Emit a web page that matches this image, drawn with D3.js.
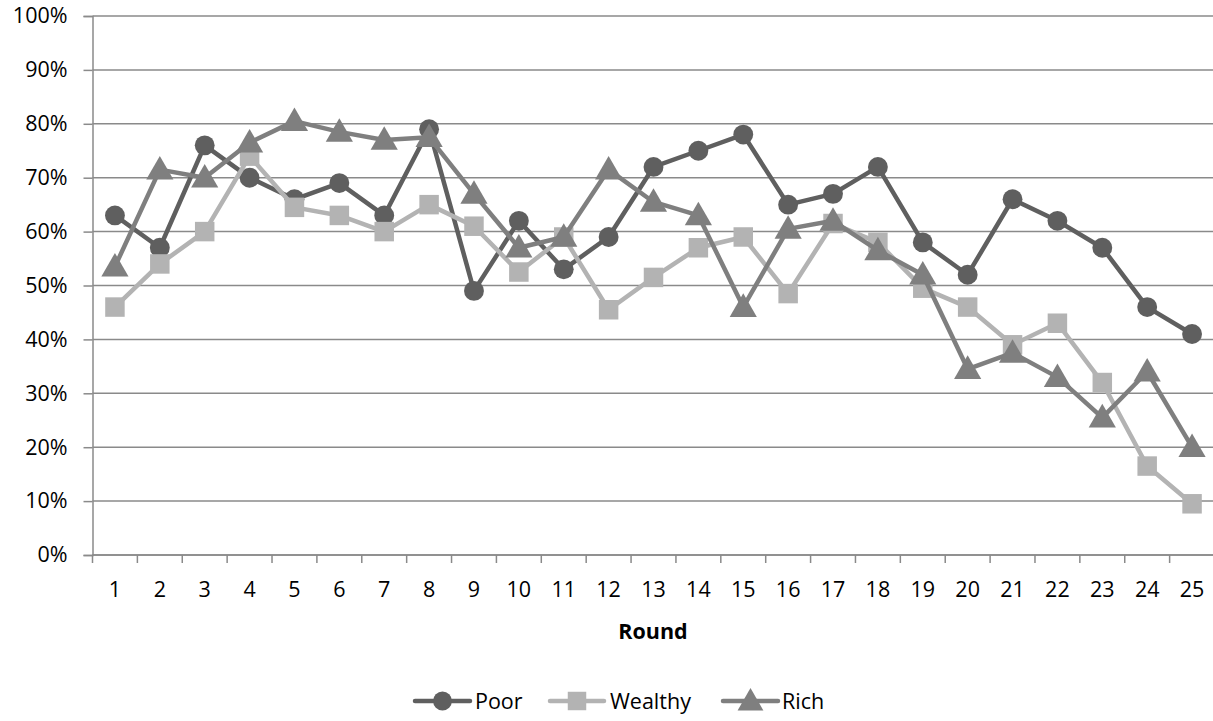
<!DOCTYPE html>
<html><head><meta charset="utf-8">
<script src="https://cdn.jsdelivr.net/npm/d3@7"></script>
<style>body{margin:0;background:#fff}text{font-family:"Open Sans",Lato,sans-serif}</style>
</head><body>
<svg id="c" width="1213" height="721"></svg>
<script>
const rounds = d3.range(1, 26).map(String);
const poor = [63,57,76,70,66,69,63,79,49,62,53,59,72,75,78,65,67,72,58,52,66,62,57,46,41];
const wealthy = [46,54,60,74,64.5,63,60,65,61,52.5,59,45.5,51.5,57,59,48.5,61.5,58,49.5,46,39,43,32,16.5,9.5];
const rich = [53.5,71.5,70,76.5,80.5,78.5,77,77.5,67,57,59,71.5,65.5,63,46,60.5,62,56.5,52,34.5,37.5,33,25.5,34,20];
const yTicks = [0,10,20,30,40,50,60,70,80,90,100];
const seriesNames = ["Poor","Wealthy","Rich"];
const colors = ["#5f5f5f","#b3b3b3","#7f7f7f"];
const shapes = [d3.symbolCircle, d3.symbolSquare, d3.symbolTriangle];
const sizes = [310, 380, 320];

const FS = 21.5;
const FF = "'Open Sans',Lato,sans-serif";
const svg = d3.select("#c");
const L = 92.5, R = 1214.5, T = 16, B = 555;
const x = d3.scaleBand().domain(rounds).range([L, R]);
const y = d3.scaleLinear().domain([0, 100]).range([B, T]);

// gridlines
svg.append("g").selectAll("line").data(yTicks).join("line")
  .attr("x1", L).attr("x2", R).attr("y1", d => y(d)).attr("y2", d => y(d))
  .attr("stroke", "#8a8a8a").attr("stroke-width", 1.5);

// y axis
const ya = svg.append("g").attr("transform", `translate(${L},0)`)
  .call(d3.axisLeft(y).tickValues(yTicks).tickFormat(d => d + "%").tickSize(9).tickPadding(16));
ya.select(".domain").attr("stroke", "#8a8a8a").attr("stroke-width", 1.5);
ya.selectAll(".tick line").attr("stroke", "#8a8a8a").attr("stroke-width", 1.5);
ya.selectAll("text").attr("font-size", FS).attr("fill", "#000").style("font-family", FF);

// x axis
const xa = svg.append("g").attr("transform", `translate(0,${B})`)
  .call(d3.axisBottom(x).tickSize(0).tickPadding(27));
xa.select(".domain").remove();
xa.selectAll("text").attr("font-size", FS).attr("fill", "#000").style("font-family", FF);
const bounds = d3.range(0, 26).map(i => L + i * x.step());
svg.append("g").selectAll("line").data(bounds).join("line")
  .attr("x1", d => d).attr("x2", d => d).attr("y1", B).attr("y2", B + 8)
  .attr("stroke", "#8a8a8a").attr("stroke-width", 1.5);
svg.append("line").attr("x1", L).attr("x2", R).attr("y1", B).attr("y2", B)
  .attr("stroke", "#8a8a8a").attr("stroke-width", 1.5);

svg.append("text").attr("x", 653).attr("y", 639).attr("text-anchor", "middle")
  .attr("font-size", FS).attr("font-weight", "bold").text("Round");

const cx = (d, i) => x(rounds[i]) + x.bandwidth() / 2;
const line = d3.line().x(cx).y(d => y(d));
const data = [poor, wealthy, rich];
data.forEach((vals, k) => {
  const g = svg.append("g");
  g.append("path").attr("d", line(vals)).attr("fill", "none")
    .attr("stroke", colors[k]).attr("stroke-width", 4.5).attr("stroke-linejoin", "round");
  g.selectAll("path.m").data(vals).join("path").attr("class", "m")
    .attr("d", d3.symbol().type(shapes[k]).size(sizes[k]))
    .attr("transform", (d, i) => `translate(${cx(d, i)},${y(d) + (k === 2 ? 2 : 0)})`)
    .attr("fill", colors[k]);
});

// legend
const legX = [415, 550, 723];
const legW = [55, 54, 55];
const legTextX = [475, 610, 782];
const ly = 701;
seriesNames.forEach((n, k) => {
  const g = svg.append("g");
  g.append("line").attr("x1", legX[k]).attr("x2", legX[k] + legW[k]).attr("y1", ly).attr("y2", ly)
    .attr("stroke", colors[k]).attr("stroke-width", 4.5).attr("stroke-linecap", "round");
  g.append("path").attr("d", d3.symbol().type(shapes[k]).size(sizes[k] * 0.9))
    .attr("transform", `translate(${legX[k] + legW[k] / 2},${ly + (k === 2 ? 2 : 0)})`).attr("fill", colors[k]);
  g.append("text").attr("x", legTextX[k]).attr("y", ly + 8).attr("font-size", FS).text(n);
});
</script>
</body></html>
